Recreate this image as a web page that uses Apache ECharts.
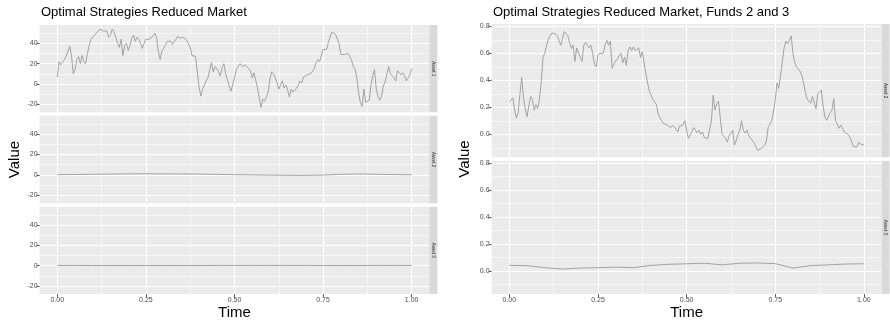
<!DOCTYPE html>
<html>
<head>
<meta charset="utf-8">
<script src="https://cdn.jsdelivr.net/npm/echarts@6/dist/echarts.min.js"></script>
<style>
html, body { margin: 0; padding: 0; background: #fff; }
#chart { width: 890px; height: 324px; }
</style>
</head>
<body>
<div id="chart"></div>
<script>
// values, one point per 0.005 of time
const marketAsset1 = [
  6.5, 22, 19, 21, 24, 27.6, 32, 37, 28, 10,
  14, 24, 27, 20, 28, 22, 20, 30, 38, 44,
  46, 48, 50, 52, 54, 53, 52, 51, 52, 46,
  48, 54, 51, 46, 40, 36, 44, 28, 38, 40,
  33, 38, 45, 48, 42, 46, 44, 40, 35, 40,
  44, 43, 44, 45, 47, 50, 46, 32, 24, 32,
  35, 38, 42, 43, 42, 39, 38, 44, 47, 45,
  45, 46, 45, 43, 43, 36, 28, 27, 27, 12,
  -3, -12, -5, -1, 3, 6, 14, 21, 12, 17,
  15, 12, 8, 16, 20, 10, 4, -2, -7, -8,
  6, 14, 17, 20, 19, 17, 19, 17, 15, 13,
  6, 11, 10, -4, -14, -23, -15, -17, -18, -8,
  5, 12, 10, 6, 1, -5, -1, 3, -4, -1,
  -6, -13, -5, -8, -6, -4, -1, 3, 1, 7,
  8, 9, 9, 10, 9, 15, 21, 24, 22, 28,
  34, 35, 34, 41, 47, 51, 50, 49, 50, 40,
  29, 28, 29, 30, 30, 31, 24, 17, 15, 6,
  -8, -18, -22, -5, -18, -17, -16, -2, 8, 14,
  -5, -12, -16, -12, -2, 2, 10, 17, 10, 8,
  6, 3, 13, 11, 9, 11, 8, 3, 2, 9,
  15
];
// one point per 0.05 of time
const marketAsset2 = [0.1, 0.3, 0.5, 0.7, 0.9, 1.0, 0.9, 0.8, 0.7, 0.4, 0.1, -0.1, -0.3, -0.5, -0.6, -0.3, 0.5, 0.8, 0.5, 0.2, 0.0];
const marketAsset3 = [0.2, 0.2, 0.1, 0.1, 0.1, 0.1, 0.1, 0.1, 0.1, 0.2, 0.2, 0.2, 0.2, 0.2, 0.2, 0.1, 0.1, 0.1, 0.2, 0.2, 0.2];

// one point per 0.005 of time
const fundsAsset2 = [
  0.24, 0.235, 0.27, 0.18, 0.12, 0.16, 0.30, 0.42, 0.27, 0.19,
  0.13, 0.21, 0.28, 0.26, 0.18, 0.22, 0.19, 0.26, 0.39, 0.57,
  0.60, 0.66, 0.70, 0.73, 0.75, 0.75, 0.745, 0.73, 0.74, 0.66,
  0.71, 0.76, 0.758, 0.73, 0.68, 0.635, 0.66, 0.54, 0.64, 0.635,
  0.57, 0.54, 0.66, 0.68, 0.67, 0.64, 0.66, 0.60, 0.52, 0.50,
  0.585, 0.60, 0.593, 0.60, 0.66, 0.696, 0.66, 0.69, 0.49, 0.523,
  0.51, 0.56, 0.585, 0.60, 0.53, 0.57, 0.51, 0.62, 0.647, 0.62,
  0.647, 0.62, 0.63, 0.64, 0.57, 0.61, 0.60, 0.45, 0.38, 0.32,
  0.29, 0.26, 0.24, 0.22, 0.15, 0.12, 0.10, 0.08, 0.09, 0.07,
  0.067, 0.05, 0.065, 0.055, 0.04, 0.017, 0.06, 0.054, 0.07, 0.10,
  0.03, -0.03, -0.02, 0.02, 0.05, 0.04, 0.01, 0.03, 0.0, 0.017,
  -0.025, -0.03, -0.03, -0.044, 0.10, 0.289, 0.18, 0.227, 0.244, 0.12,
  0.0, -0.01, -0.03, -0.057, -0.01, 0.01, 0.03, -0.08, -0.045, 0.0,
  0.03, 0.10, 0.03, 0.01, 0.03, -0.007, -0.03, -0.044, -0.06, -0.09,
  -0.118, -0.11, -0.106, -0.10, -0.08, -0.05, 0.05, 0.05, 0.10, 0.165,
  0.25, 0.38, 0.34, 0.338, 0.536, 0.64, 0.69, 0.67, 0.66, 0.728,
  0.60, 0.53, 0.50, 0.50, 0.467, 0.437, 0.38, 0.31, 0.26, 0.25,
  0.23, 0.28, 0.29, 0.19, 0.30, 0.314, 0.326, 0.21, 0.128, 0.104,
  0.11, 0.16, 0.178, 0.264, 0.104, 0.09, 0.045, 0.067, 0.06, 0.017,
  0.01, 0.0, -0.02, -0.05, -0.09, -0.10, -0.095, -0.06, -0.07, -0.08,
  -0.076
];
// one point per 0.05 of time
const fundsAsset3 = [0.042, 0.040, 0.025, 0.015, 0.022, 0.025, 0.029, 0.025, 0.042, 0.050, 0.054, 0.058, 0.046, 0.058, 0.060, 0.055, 0.022, 0.040, 0.046, 0.052, 0.054];

const xTicks = [0, 0.25, 0.5, 0.75, 1];
const xMinor = [0.125, 0.375, 0.625, 0.875];
const marketTicks = [-20, 0, 20, 40];
const marketMinor = [-10, 10, 30, 50];
const fundsTicks = [0, 0.2, 0.4, 0.6, 0.8];
const fundsMinor = [-0.1, 0.1, 0.3, 0.5, 0.7];

const FONT = 'Liberation Sans, Arial, Helvetica, sans-serif';
const STRIP_W = 8;

// evenly spaced time grid for an array of values
const withTime = vals => vals.map((v, i) => [i / (vals.length - 1), v]);

const panels = [
  { left: 39.6, top: 25, width: 389.8, height: 87.33, min: -27.9, max: 58, ticks: marketTicks, minor: marketMinor, fmt: v => String(v), values: marketAsset1, strip: 'Asset 1', bottom: false },
  { left: 39.6, top: 115.83, width: 389.8, height: 87.33, min: -27.9, max: 58, ticks: marketTicks, minor: marketMinor, fmt: v => String(v), values: marketAsset2, strip: 'Asset 2', bottom: false },
  { left: 39.6, top: 206.67, width: 389.8, height: 87.33, min: -27.9, max: 58, ticks: marketTicks, minor: marketMinor, fmt: v => String(v), values: marketAsset3, strip: 'Asset 3', bottom: true },
  { left: 491.6, top: 24, width: 390, height: 133.25, min: -0.17, max: 0.817, ticks: fundsTicks, minor: fundsMinor, fmt: v => v.toFixed(1), values: fundsAsset2, strip: 'Asset 2', bottom: false },
  { left: 491.6, top: 160.75, width: 390, height: 133.25, min: -0.17, max: 0.817, ticks: fundsTicks, minor: fundsMinor, fmt: v => v.toFixed(1), values: fundsAsset3, strip: 'Asset 3', bottom: true }
];

const grid = [], xAxis = [], yAxis = [], series = [], graphic = [];

panels.forEach((p, i) => {
  grid.push({ left: p.left, top: p.top, width: p.width, height: p.height, show: true, backgroundColor: '#ebebeb', borderWidth: 0 });
  xAxis.push({
    type: 'value', gridIndex: i, position: 'bottom', min: -0.05, max: 1.05,
    axisLine: { show: false, onZero: false },
    axisTick: { show: p.bottom, customValues: xTicks, length: 3, lineStyle: { color: '#333', width: 0.8 } },
    axisLabel: { show: p.bottom, customValues: xTicks, formatter: v => v.toFixed(2), fontSize: 7, color: '#4d4d4d', margin: 3, fontFamily: FONT },
    splitLine: { show: true, lineStyle: { color: '#fff', width: 1.1 } }
  });
  xAxis.push({
    type: 'value', gridIndex: i, position: 'top', min: -0.05, max: 1.05,
    axisLine: { show: false, onZero: false },
    axisTick: { show: false, customValues: xMinor },
    axisLabel: { show: false },
    splitLine: { show: true, lineStyle: { color: '#fff', width: 0.55 } }
  });
  yAxis.push({
    type: 'value', gridIndex: i, position: 'left', min: p.min, max: p.max,
    axisLine: { show: false, onZero: false },
    axisTick: { show: true, customValues: p.ticks, length: 3, lineStyle: { color: '#333', width: 0.8 } },
    axisLabel: { show: true, customValues: p.ticks, formatter: p.fmt, fontSize: 7, color: '#4d4d4d', margin: 2, fontFamily: FONT },
    splitLine: { show: true, lineStyle: { color: '#fff', width: 1.1 } }
  });
  yAxis.push({
    type: 'value', gridIndex: i, position: 'right', min: p.min, max: p.max,
    axisLine: { show: false, onZero: false },
    axisTick: { show: false, customValues: p.minor },
    axisLabel: { show: false },
    splitLine: { show: true, lineStyle: { color: '#fff', width: 0.55 } }
  });
  series.push({
    type: 'line', xAxisIndex: 2 * i, yAxisIndex: 2 * i,
    data: withTime(p.values), showSymbol: false, animation: false,
    lineStyle: { color: '#9a9a9a', width: 0.9 }
  });
  // facet strip on the right of each panel
  graphic.push({ type: 'rect', shape: { x: p.left + p.width, y: p.top, width: STRIP_W, height: p.height }, style: { fill: '#d9d9d9' }, silent: true });
  graphic.push({
    type: 'text', x: p.left + p.width + STRIP_W / 2, y: p.top + p.height / 2, rotation: -Math.PI / 2,
    style: { text: p.strip, fontSize: 4.5, fill: '#1a1a1a', align: 'center', verticalAlign: 'middle', fontFamily: FONT },
    silent: true
  });
});

// axis titles
graphic.push(
  { type: 'text', x: 15, y: 159.5, rotation: Math.PI / 2, style: { text: 'Value', fontSize: 15, fill: '#000', align: 'center', verticalAlign: 'middle', fontFamily: FONT } },
  { type: 'text', x: 234.5, y: 313, style: { text: 'Time', fontSize: 15, fill: '#000', align: 'center', verticalAlign: 'middle', fontFamily: FONT } },
  { type: 'text', x: 465, y: 159, rotation: Math.PI / 2, style: { text: 'Value', fontSize: 15, fill: '#000', align: 'center', verticalAlign: 'middle', fontFamily: FONT } },
  { type: 'text', x: 686.6, y: 313, style: { text: 'Time', fontSize: 15, fill: '#000', align: 'center', verticalAlign: 'middle', fontFamily: FONT } }
);

const chart = echarts.init(document.getElementById('chart'), null, { renderer: 'canvas' });
chart.setOption({
  animation: false,
  backgroundColor: '#fff',
  title: [
    { text: 'Optimal Strategies Reduced Market', left: 41, top: 6, padding: 0, textStyle: { fontSize: 13, fontWeight: 'normal', color: '#000', fontFamily: FONT } },
    { text: 'Optimal Strategies Reduced Market, Funds 2 and 3', left: 493, top: 6, padding: 0, textStyle: { fontSize: 13, fontWeight: 'normal', color: '#000', fontFamily: FONT } }
  ],
  grid, xAxis, yAxis, series, graphic
});
</script>
</body>
</html>
